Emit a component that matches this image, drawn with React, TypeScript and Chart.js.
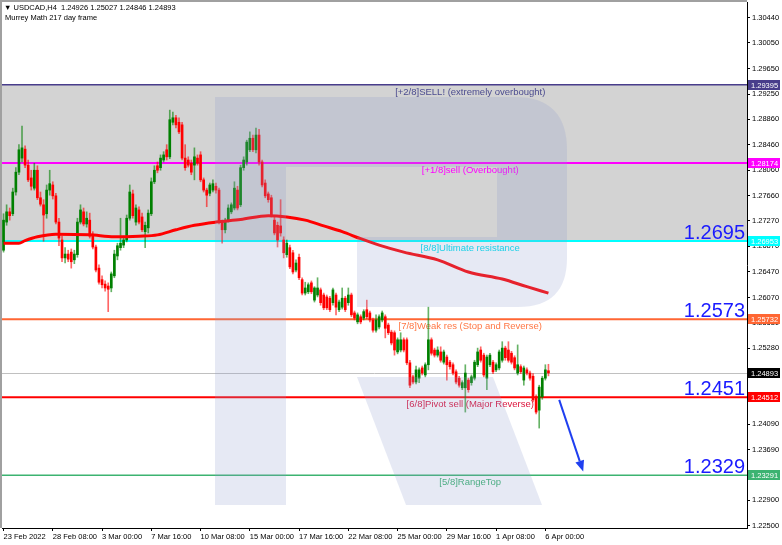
import React, { useEffect, useRef } from 'react';
import { Chart, registerables } from 'chart.js';

Chart.register(...registerables);

const headerLine1 = '\u25BC USDCAD,H4  1.24926 1.25027 1.24846 1.24893';
const headerLine2 = 'Murrey Math 217 day frame';

const slotCount = 242;
const xTickEvery = 16;
const xTickLabels = ['23 Feb 2022', '28 Feb 08:00', '3 Mar 00:00', '7 Mar 16:00', '10 Mar 08:00', '15 Mar 00:00', '17 Mar 16:00', '22 Mar 08:00', '25 Mar 00:00', '29 Mar 16:00', '1 Apr 08:00', '6 Apr 00:00'];
const yTickValues = [1.3044, 1.3005, 1.2965, 1.2925, 1.2886, 1.2846, 1.2806, 1.2766, 1.2727, 1.2687, 1.2647, 1.2607, 1.2568, 1.2528, 1.2489, 1.2449, 1.2409, 1.2369, 1.2329, 1.229, 1.225];
const yMin = 1.22468;
const yMax = 1.3069;

const levelValues = [1.29395, 1.28174, 1.26953, 1.25732, 1.24512, 1.23291];
const levelNames = ['[+2/8]SELL! (extremely overbought)', '[+1/8]sell (Overbought)', '[8/8]Ultimate resistance', '[7/8]Weak res (Stop and Reverse)', '[6/8]Pivot sell (Major Reverse)', '[5/8]RangeTop'];
const levelBigText = ['', '', '1.2695', '1.2573', '1.2451', '1.2329'];
const levelLineColors = ['#483d8b', '#ff00ff', '#00ffff', '#ff6633', '#ff0000', '#3cb371'];
const levelTextColors = ['#4b4b8f', '#ff00ff', '#00e0f0', '#ff7744', '#dc143c', '#3cb371'];
const levelLineWidths = [1.5, 2, 2, 2, 2, 1.5];
const levelLabelCenterIndex = 151.6;
const currentPrice = 1.24893;
const zoneTop = 1.29395;
const zoneBottom = 1.26953;
const arrowFrom = [180.5, 1.2447];
const arrowTo = [188.3, 1.2335];

const opens = [1.2681, 1.2725, 1.2741, 1.2738, 1.2772, 1.2803, 1.2825, 1.2839, 1.2814, 1.2794, 1.2778, 1.2806, 1.2763, 1.2752, 1.2738, 1.2775, 1.2783, 1.2766, 1.2725, 1.2697, 1.2669, 1.2675, 1.2678, 1.2666, 1.2674, 1.2725, 1.2741, 1.2722, 1.2728, 1.2703, 1.2686, 1.2653, 1.2635, 1.2628, 1.2625, 1.2622, 1.2641, 1.2672, 1.2685, 1.2689, 1.2697, 1.2731, 1.2769, 1.2725, 1.2744, 1.2733, 1.271, 1.2716, 1.2738, 1.2788, 1.2813, 1.281, 1.2822, 1.2838, 1.2827, 1.2881, 1.2888, 1.2881, 1.2877, 1.2825, 1.2822, 1.2817, 1.2814, 1.2825, 1.283, 1.2791, 1.2775, 1.277, 1.2775, 1.2781, 1.2775, 1.2725, 1.2713, 1.2728, 1.2741, 1.2747, 1.2775, 1.2752, 1.281, 1.2819, 1.2838, 1.2856, 1.2838, 1.2861, 1.2819, 1.2786, 1.2769, 1.2763, 1.2728, 1.272, 1.2719, 1.2697, 1.2674, 1.2685, 1.2677, 1.265, 1.267, 1.2635, 1.2614, 1.2616, 1.263, 1.2603, 1.2611, 1.2619, 1.2611, 1.2608, 1.2606, 1.2599, 1.2611, 1.2588, 1.2592, 1.2606, 1.2599, 1.2611, 1.2583, 1.2569, 1.2577, 1.2575, 1.2588, 1.2583, 1.2572, 1.2556, 1.2561, 1.2572, 1.2577, 1.2564, 1.2553, 1.2552, 1.2522, 1.2525, 1.2541, 1.2541, 1.2505, 1.2483, 1.2475, 1.2481, 1.2497, 1.2486, 1.2502, 1.2541, 1.2525, 1.2517, 1.2522, 1.2506, 1.2514, 1.2506, 1.2502, 1.2491, 1.2481, 1.2466, 1.2466, 1.2478, 1.2474, 1.2481, 1.2502, 1.2525, 1.2517, 1.2481, 1.2502, 1.2506, 1.2494, 1.2497, 1.2509, 1.2528, 1.2525, 1.252, 1.2513, 1.2489, 1.2499, 1.2478, 1.2494, 1.2489, 1.2484, 1.2452, 1.2431, 1.2452, 1.2481, 1.24926];
const highs = [1.2738, 1.2752, 1.2747, 1.2778, 1.281, 1.2846, 1.2875, 1.2844, 1.2822, 1.2806, 1.2817, 1.2813, 1.2772, 1.276, 1.2783, 1.2806, 1.2788, 1.277, 1.2731, 1.2703, 1.2685, 1.2681, 1.2683, 1.2681, 1.2731, 1.2752, 1.2747, 1.2741, 1.2739, 1.271, 1.2689, 1.2658, 1.2641, 1.2633, 1.263, 1.2647, 1.2681, 1.2692, 1.2731, 1.2703, 1.2736, 1.2783, 1.2775, 1.2752, 1.2749, 1.2739, 1.2725, 1.2744, 1.2794, 1.2813, 1.2819, 1.283, 1.2835, 1.2846, 1.29, 1.2897, 1.2892, 1.2888, 1.2881, 1.2846, 1.2827, 1.2822, 1.2841, 1.283, 1.2835, 1.2794, 1.2778, 1.2786, 1.2791, 1.2786, 1.2778, 1.2728, 1.2731, 1.2752, 1.2755, 1.2788, 1.2781, 1.2814, 1.2827, 1.2853, 1.2866, 1.2861, 1.2872, 1.287, 1.2822, 1.2791, 1.2772, 1.2767, 1.2733, 1.2725, 1.276, 1.2702, 1.2697, 1.2689, 1.2681, 1.2666, 1.2675, 1.2638, 1.2631, 1.263, 1.2633, 1.2624, 1.2638, 1.2622, 1.2614, 1.2611, 1.2609, 1.2622, 1.2614, 1.2603, 1.2622, 1.2609, 1.2622, 1.2614, 1.2586, 1.2583, 1.258, 1.2588, 1.2603, 1.2586, 1.2575, 1.258, 1.258, 1.2586, 1.258, 1.2567, 1.2556, 1.2555, 1.2544, 1.2552, 1.2544, 1.2544, 1.2509, 1.2486, 1.25, 1.2497, 1.25, 1.2505, 1.2592, 1.2544, 1.2528, 1.253, 1.253, 1.2525, 1.2517, 1.2509, 1.2505, 1.2494, 1.2484, 1.2477, 1.2502, 1.2481, 1.2486, 1.2509, 1.2528, 1.253, 1.252, 1.2517, 1.252, 1.2509, 1.2505, 1.2525, 1.2538, 1.2531, 1.2538, 1.2523, 1.2516, 1.2533, 1.2502, 1.25, 1.2497, 1.2492, 1.2488, 1.2455, 1.247, 1.2484, 1.2502, 1.25027];
const lows = [1.2678, 1.272, 1.2728, 1.2735, 1.2767, 1.2799, 1.2819, 1.281, 1.2788, 1.2775, 1.2775, 1.276, 1.275, 1.2695, 1.2731, 1.2767, 1.2761, 1.2722, 1.2688, 1.2663, 1.2661, 1.2663, 1.2653, 1.266, 1.267, 1.2722, 1.2719, 1.2717, 1.27, 1.2683, 1.2647, 1.2628, 1.2622, 1.2617, 1.2585, 1.2616, 1.2638, 1.2666, 1.2681, 1.2685, 1.2694, 1.2728, 1.2731, 1.272, 1.2722, 1.271, 1.2685, 1.2708, 1.2735, 1.2785, 1.2802, 1.2806, 1.2819, 1.2822, 1.2824, 1.2877, 1.2872, 1.2863, 1.2822, 1.2806, 1.2811, 1.2799, 1.2791, 1.2814, 1.2788, 1.2772, 1.2749, 1.2766, 1.2772, 1.277, 1.2722, 1.2692, 1.2708, 1.2725, 1.2738, 1.2744, 1.2744, 1.2749, 1.2806, 1.2814, 1.2835, 1.2835, 1.2833, 1.2814, 1.278, 1.2763, 1.2756, 1.2733, 1.2705, 1.2686, 1.2703, 1.2669, 1.267, 1.2652, 1.2644, 1.2647, 1.2635, 1.2611, 1.2611, 1.2613, 1.2613, 1.26, 1.2608, 1.2595, 1.2588, 1.2588, 1.2585, 1.2595, 1.258, 1.2585, 1.2589, 1.2585, 1.2595, 1.2577, 1.2572, 1.2566, 1.2566, 1.2572, 1.2574, 1.2569, 1.2553, 1.2553, 1.2558, 1.2569, 1.2544, 1.2549, 1.2533, 1.2517, 1.2519, 1.2522, 1.2522, 1.2502, 1.2466, 1.2472, 1.2472, 1.2474, 1.2486, 1.2483, 1.2494, 1.2517, 1.2514, 1.2514, 1.2506, 1.2503, 1.2478, 1.2495, 1.2486, 1.2472, 1.2467, 1.2463, 1.2428, 1.2459, 1.247, 1.2478, 1.2499, 1.2506, 1.2483, 1.2463, 1.2499, 1.2488, 1.2491, 1.2494, 1.2506, 1.2509, 1.2506, 1.2503, 1.2494, 1.2486, 1.2488, 1.247, 1.2486, 1.2478, 1.2444, 1.2425, 1.2403, 1.2448, 1.2478, 1.24846];
const closes = [1.2728, 1.2741, 1.2735, 1.2772, 1.2803, 1.2838, 1.2841, 1.2814, 1.2791, 1.2781, 1.2806, 1.2763, 1.2753, 1.2736, 1.2775, 1.2785, 1.2766, 1.2725, 1.27, 1.2669, 1.2675, 1.2667, 1.2663, 1.2675, 1.2725, 1.2744, 1.2722, 1.2731, 1.2703, 1.2686, 1.265, 1.2631, 1.2627, 1.2622, 1.262, 1.2644, 1.2675, 1.2688, 1.2692, 1.2697, 1.2731, 1.2772, 1.2735, 1.2747, 1.2725, 1.2713, 1.272, 1.2739, 1.2788, 1.2806, 1.2806, 1.2825, 1.283, 1.2827, 1.2885, 1.2888, 1.2877, 1.2866, 1.2825, 1.281, 1.2814, 1.2803, 1.2827, 1.2817, 1.2791, 1.2775, 1.2767, 1.2783, 1.2785, 1.2775, 1.2725, 1.2713, 1.2728, 1.2747, 1.2752, 1.2778, 1.2747, 1.281, 1.2822, 1.285, 1.2856, 1.2838, 1.2861, 1.2819, 1.2783, 1.2766, 1.276, 1.2736, 1.2708, 1.2697, 1.2708, 1.2677, 1.2692, 1.2655, 1.2647, 1.2661, 1.2638, 1.2614, 1.2622, 1.2627, 1.2616, 1.2622, 1.2622, 1.2599, 1.2591, 1.2591, 1.2588, 1.2619, 1.2592, 1.26, 1.2606, 1.2588, 1.2611, 1.258, 1.2575, 1.258, 1.2569, 1.2585, 1.2577, 1.2572, 1.2556, 1.2572, 1.2577, 1.2583, 1.2559, 1.2552, 1.2536, 1.2525, 1.2541, 1.2541, 1.2525, 1.2505, 1.247, 1.2475, 1.2494, 1.2494, 1.2489, 1.2502, 1.2541, 1.252, 1.2517, 1.2525, 1.2509, 1.2522, 1.2502, 1.2499, 1.2489, 1.2475, 1.247, 1.2474, 1.2489, 1.2463, 1.2483, 1.2506, 1.2522, 1.2509, 1.2486, 1.2514, 1.2517, 1.2491, 1.2502, 1.2522, 1.2528, 1.2513, 1.2509, 1.2506, 1.2497, 1.2502, 1.2491, 1.2497, 1.2489, 1.2481, 1.2447, 1.2428, 1.2467, 1.2481, 1.2494, 1.24893];

const maIndex = [0, 5, 7, 11, 17, 28, 36, 44, 50, 56, 62, 69, 77, 86, 92, 98, 104, 110, 116, 122, 130, 141, 151, 162, 170, 177];
const maValue = [1.2692, 1.2692, 1.2696, 1.2702, 1.2706, 1.2705, 1.2702, 1.2703, 1.2705, 1.2713, 1.272, 1.2725, 1.2729, 1.2735, 1.2733, 1.2728, 1.2719, 1.271, 1.2699, 1.2689, 1.2678, 1.2666, 1.2647, 1.2636, 1.2624, 1.2614];

const FONT = '"Liberation Sans", "DejaVu Sans", Arial, sans-serif';

const overlayPlugin = {
  id: 'mtOverlay',
  beforeDraw(chart: any) {
    const { ctx } = chart;
    ctx.save();
    ctx.fillStyle = '#ffffff';
    ctx.fillRect(0, 0, chart.width, chart.height);
    ctx.restore();
  },
  beforeDatasetsDraw(chart: any) {
    const { ctx, chartArea: ca, scales } = chart;
    const y = scales.y;
    const x = scales.x;
    ctx.save();
    ctx.beginPath();
    ctx.rect(ca.left, ca.top, ca.right - ca.left, ca.bottom - ca.top);
    ctx.clip();
    const zt = y.getPixelForValue(zoneTop);
    const zb = y.getPixelForValue(zoneBottom);
    ctx.fillStyle = '#d3d3d3';
    ctx.fillRect(ca.left, zt, ca.right - ca.left, zb - zt);
    const cp = Math.round(y.getPixelForValue(currentPrice)) + 0.5;
    ctx.strokeStyle = '#c0c0c0';
    ctx.lineWidth = 1;
    ctx.beginPath();
    ctx.moveTo(ca.left, cp);
    ctx.lineTo(ca.right, cp);
    ctx.stroke();
    const cx = x.getPixelForValue(levelLabelCenterIndex);
    levelValues.forEach((v, i) => {
      const py = y.getPixelForValue(v);
      ctx.strokeStyle = levelLineColors[i];
      ctx.lineWidth = levelLineWidths[i];
      ctx.beginPath();
      ctx.moveTo(ca.left, py);
      ctx.lineTo(ca.right, py);
      ctx.stroke();
      ctx.fillStyle = levelTextColors[i];
      ctx.font = `9.5px ${FONT}`;
      ctx.textAlign = 'center';
      ctx.textBaseline = 'middle';
      ctx.fillText(levelNames[i], cx, py + 7.5);
    });
    ctx.restore();
  },
  afterDatasetsDraw(chart: any) {
    const { ctx, chartArea: ca, scales } = chart;
    const y = scales.y;
    const x = scales.x;
    ctx.save();
    ctx.beginPath();
    ctx.rect(ca.left, ca.top, ca.right - ca.left, ca.bottom - ca.top);
    ctx.clip();
    const ox = ca.left - 2;
    const oy = ca.top - 2;
    ctx.fillStyle = 'rgba(140,155,205,0.22)';
    ctx.beginPath();
    ctx.moveTo(ox + 215, oy + 97);
    ctx.lineTo(ox + 515, oy + 97);
    ctx.quadraticCurveTo(ox + 567, oy + 97, ox + 567, oy + 150);
    ctx.lineTo(ox + 567, oy + 258);
    ctx.quadraticCurveTo(ox + 567, oy + 307, ox + 518, oy + 307);
    ctx.lineTo(ox + 357, oy + 307);
    ctx.lineTo(ox + 357, oy + 237);
    ctx.lineTo(ox + 497, oy + 237);
    ctx.lineTo(ox + 497, oy + 167);
    ctx.lineTo(ox + 286, oy + 167);
    ctx.lineTo(ox + 286, oy + 505);
    ctx.lineTo(ox + 215, oy + 505);
    ctx.closePath();
    ctx.fill();
    ctx.beginPath();
    ctx.moveTo(ox + 357, oy + 377);
    ctx.lineTo(ox + 493, oy + 377);
    ctx.lineTo(ox + 542, oy + 505);
    ctx.lineTo(ox + 406, oy + 505);
    ctx.closePath();
    ctx.fill();
    ctx.fillStyle = '#1a1aff';
    ctx.font = `20px ${FONT}`;
    ctx.textAlign = 'right';
    ctx.textBaseline = 'alphabetic';
    levelValues.forEach((v, i) => {
      if (!levelBigText[i]) return;
      const py = y.getPixelForValue(v);
      ctx.fillText(levelBigText[i], ca.right - 2, py - 2.5);
    });
    const x1 = x.getPixelForValue(arrowFrom[0]);
    const y1 = y.getPixelForValue(arrowFrom[1]);
    const x2 = x.getPixelForValue(arrowTo[0]);
    const y2 = y.getPixelForValue(arrowTo[1]);
    const ang = Math.atan2(y2 - y1, x2 - x1);
    const headLen = 11;
    const bx = x2 - headLen * Math.cos(ang);
    const by = y2 - headLen * Math.sin(ang);
    ctx.strokeStyle = '#1f3ff0';
    ctx.fillStyle = '#1f3ff0';
    ctx.lineWidth = 2;
    ctx.beginPath();
    ctx.moveTo(x1, y1);
    ctx.lineTo(bx, by);
    ctx.stroke();
    ctx.beginPath();
    ctx.moveTo(x2, y2);
    ctx.lineTo(bx + 4.5 * Math.sin(ang), by - 4.5 * Math.cos(ang));
    ctx.lineTo(bx - 4.5 * Math.sin(ang), by + 4.5 * Math.cos(ang));
    ctx.closePath();
    ctx.fill();
    ctx.restore();
  },
  afterDraw(chart: any) {
    const { ctx, chartArea: ca, scales } = chart;
    const y = scales.y;
    ctx.save();
    ctx.strokeStyle = '#a0a0a0';
    ctx.lineWidth = 2;
    ctx.beginPath();
    ctx.moveTo(1, ca.bottom);
    ctx.lineTo(1, 1);
    ctx.lineTo(ca.right, 1);
    ctx.stroke();
    ctx.font = `7.5px ${FONT}`;
    ctx.textAlign = 'left';
    ctx.textBaseline = 'middle';
    const boxes = levelValues.map((v, i) => ({ v, c: levelLineColors[i] }));
    boxes.push({ v: currentPrice, c: '#000000' });
    boxes.forEach((b) => {
      const py = Math.round(y.getPixelForValue(b.v));
      ctx.fillStyle = b.c;
      ctx.fillRect(ca.right + 1, py - 5, 32, 10);
      ctx.fillStyle = '#ffffff';
      ctx.fillText(b.v.toFixed(5), ca.right + 4, py + 0.5);
    });
    ctx.fillStyle = '#000000';
    ctx.font = `7.5px ${FONT}`;
    ctx.fillText(headerLine1, ca.left + 2, 8);
    ctx.fillText(headerLine2, ca.left + 3, 18);
    ctx.restore();
  },
};

export default function App() {
  const ref = useRef<HTMLCanvasElement>(null);
  useEffect(() => {
    const canvas = ref.current;
    if (!canvas) return;
    const categories = Array.from({ length: slotCount }, (_, i) => i);
    const wickData = highs.map((h, i) => [lows[i], h]);
    const bodyData = opens.map((o, i) => [o, closes[i]]);
    const up = opens.map((o, i) => closes[i] >= o);
    const maData = maIndex.map((idx, i) => ({ x: idx, y: maValue[i] }));
    const chart = new Chart(canvas, {
      type: 'bar',
      data: {
        labels: categories,
        datasets: [
          {
            type: 'line',
            data: maData as any,
            borderColor: '#ff0000',
            borderWidth: 3,
            pointRadius: 0,
            cubicInterpolationMode: 'monotone',
            order: 0,
          } as any,
          {
            data: bodyData as any,
            backgroundColor: up.map((u) => (u ? '#008000' : '#ff0000')),
            barThickness: 2,
            grouped: false,
            borderWidth: 0,
            order: 1,
          },
          {
            data: wickData as any,
            backgroundColor: up.map((u) => (u ? 'rgba(0,128,0,0.6)' : 'rgba(255,0,0,0.6)')),
            barThickness: 1,
            grouped: false,
            borderWidth: 0,
            order: 2,
          },
        ],
      },
      options: {
        responsive: false,
        animation: false,
        devicePixelRatio: 1,
        layout: { padding: { left: 2, top: 2, right: 0, bottom: 0 } },
        plugins: { legend: { display: false }, tooltip: { enabled: false } },
        events: [],
        scales: {
          x: {
            type: 'category',
            offset: true,
            afterBuildTicks: (scale: any) => {
              scale.ticks = scale.ticks.filter((t: any) => t.value % xTickEvery === 0 && t.value / xTickEvery < xTickLabels.length);
            },
            afterFit: (scale: any) => {
              scale.height = 17;
              scale.paddingLeft = 0;
              scale.paddingRight = 0;
            },
            grid: { drawOnChartArea: false, drawTicks: true, tickLength: 3, color: '#000000', offset: false },
            border: { color: '#000000', width: 1 },
            ticks: {
              autoSkip: false,
              maxRotation: 0,
              minRotation: 0,
              align: 'start',
              padding: 1,
              color: '#000000',
              font: { family: FONT, size: 7.5 },
              callback: (value: any) => xTickLabels[Number(value) / xTickEvery] ?? '',
            },
          },
          y: {
            type: 'linear',
            position: 'right',
            min: yMin,
            max: yMax,
            afterBuildTicks: (scale: any) => {
              scale.ticks = yTickValues.map((v) => ({ value: v }));
            },
            afterFit: (scale: any) => {
              scale.width = 35;
              scale.paddingTop = 0;
              scale.paddingBottom = 0;
            },
            grid: { drawOnChartArea: false, drawTicks: true, tickLength: 3, color: '#000000' },
            border: { color: '#000000', width: 1 },
            ticks: {
              padding: 2,
              color: '#000000',
              font: { family: FONT, size: 7.5 },
              callback: (value: any) => Number(value).toFixed(5),
            },
          },
        },
      },
      plugins: [overlayPlugin],
    });
    return () => chart.destroy();
  }, []);
  return (
    <div style={{ position: 'fixed', left: 0, top: 0, width: 782, height: 545, background: '#ffffff' }}>
      <canvas ref={ref} width={782} height={545} style={{ display: 'block', width: 782, height: 545 }} />
    </div>
  );
}
